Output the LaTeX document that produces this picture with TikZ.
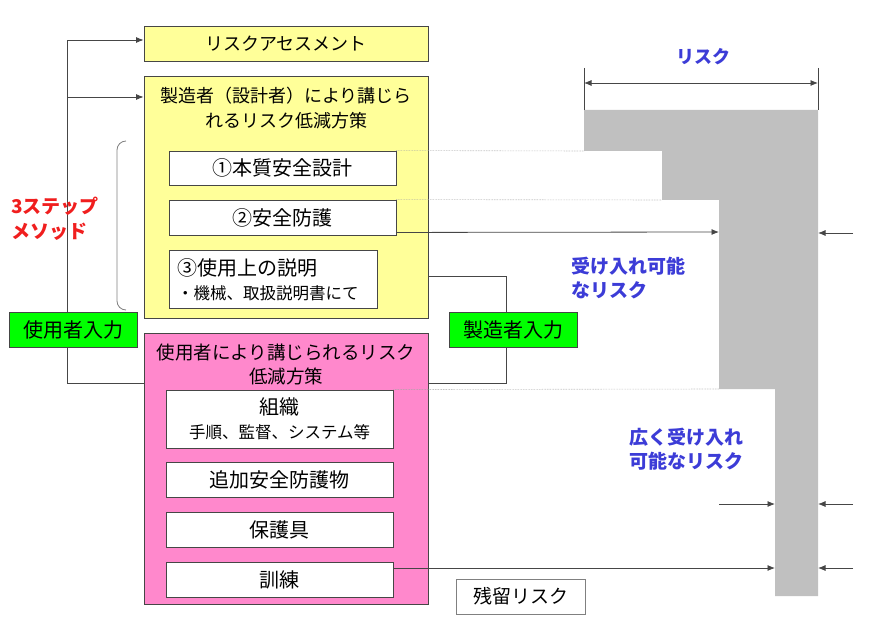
\documentclass[tikz,border=0pt]{standalone}
\usepackage{fontspec}
\setmainfont{Noto Sans CJK JP}
\usetikzlibrary{arrows.meta,calc}
\definecolor{ybox}{RGB}{255,255,153}
\definecolor{pbox}{RGB}{255,136,204}
\definecolor{gbox}{RGB}{0,255,0}
\definecolor{risk}{RGB}{192,192,192}
\definecolor{bluetxt}{RGB}{60,60,215}
\definecolor{redtxt}{RGB}{240,30,30}
\definecolor{ln}{RGB}{70,70,70}
\tikzset{
  box/.style={draw=ln, line width=0.9pt, inner sep=0pt, align=center},
  ybx/.style={box, fill=ybox},
  pbx/.style={box, fill=pbox},
  wbx/.style={box, fill=white},
  gbx/.style={box, fill=gbox, minimum width=128pt, minimum height=35pt, font=\fontsize{20}{24}\selectfont},
  conn/.style={draw=ln, line width=0.8pt},
  arr/.style={conn, -{Latex[length=7.5pt,width=6pt]}},
  dim/.style={conn, {Latex[length=7.5pt,width=6pt]}-{Latex[length=7.5pt,width=6pt]}},
  dots/.style={draw=gray!70, line width=0.6pt, densely dotted},
  bluelbl/.style={text=bluetxt, font=\fontsize{19}{24}\selectfont\bfseries, align=left, inner sep=0pt},
}
\begin{document}
\begin{tikzpicture}[x=1pt,y=-1pt]
\useasboundingbox (0,0) rectangle (891,620);

% risk gray shape
\fill[risk] (584,110) -- (818,110) -- (818,596) -- (775,596) -- (775,389) -- (719,389) -- (719,200) -- (662,200) -- (662,151) -- (584,151) -- cycle;

% dimension
\coordinate (dl) at (584,83);
\coordinate (dr) at (818,83);
\draw[conn] (584,68) -- (584,110);
\draw[conn] (818,68) -- (818,110);
\draw[dim] (dl) -- (dr);
\node[bluelbl, font=\fontsize{18}{22}\selectfont\bfseries] (risklbl) at (703,57) {リスク};

% top boxes
\node[ybx, minimum width=284pt, minimum height=35pt, font=\fontsize{18}{24}\selectfont] (ra) at (286,43.5) {リスクアセスメント};
\node[ybx, minimum width=284pt, minimum height=242pt] (mfr) at (286,197) {};
\node[inner sep=0pt, align=center, font=\fontsize{18}{25}\selectfont] (mfrt) at (286,108) {製造者（設計者）により講じら\\れるリスク低減方策};

\node[wbx, minimum width=227pt, minimum height=34pt, font=\fontsize{20}{24}\selectfont] (s1) at (282.5,168) {①本質安全設計};
\node[wbx, minimum width=227pt, minimum height=35pt, font=\fontsize{20}{24}\selectfont] (s2) at (282.5,217.5) {②安全防護};
\node[wbx, minimum width=208pt, minimum height=58pt] (s3) at (273,279) {};
\node[anchor=west, inner sep=0pt, font=\fontsize{20}{24}\selectfont] (s3a) at (177,268) {③使用上の説明};
\node[anchor=west, inner sep=0pt, font=\fontsize{16.5}{20}\selectfont] (s3b) at (177,293) {・機械、取扱説明書にて};

% pink box
\node[pbx, minimum width=284pt, minimum height=271pt] (usr) at (286,468.5) {};
\node[inner sep=0pt, align=center, font=\fontsize{18.5}{24}\selectfont] (usrt) at (286,364) {使用者により講じられるリスク\\低減方策};
\node[wbx, minimum width=227pt, minimum height=58pt] (org) at (279.5,419) {};
\node[inner sep=0pt, font=\fontsize{20}{24}\selectfont] (orga) at (279.5,407) {組織};
\node[inner sep=0pt, font=\fontsize{16.5}{20}\selectfont] (orgb) at (279.5,432) {手順、監督、システム等};
\node[wbx, minimum width=227pt, minimum height=35pt, font=\fontsize{20}{24}\selectfont] (add) at (279.5,479.5) {追加安全防護物};
\node[wbx, minimum width=227pt, minimum height=35pt, font=\fontsize{20}{24}\selectfont] (ppe) at (279.5,529.5) {保護具};
\node[wbx, minimum width=227pt, minimum height=35pt, font=\fontsize{20}{24}\selectfont] (trn) at (279.5,579.5) {訓練};

% residual risk
\node[box, draw=gray, fill=white, minimum width=129pt, minimum height=35pt, font=\fontsize{19}{24}\selectfont] (res) at (520.5,596.5) {残留リスク};

% dotted lines
\draw[dots] (s1.north east) -- (584,151);
\draw[dots] (s2.north east) -- (662,200);
\draw[dots] (org.north east) -- (719,389);

% arrows into the risk shape
\coordinate (g1) at (719,232);
\coordinate (g2) at (775,504);
\coordinate (g2s) at (719,504);
\coordinate (g3) at (775,568);
\draw[arr] ([yshift=3pt]s2.south east) -- (g1);
\draw[arr] (g2s) -- (g2);
\draw[arr] (trn.east |- g3) -- (g3);
\coordinate (q1) at (853,233);
\coordinate (q2) at (853,504);
\coordinate (q3) at (853,568);
\draw[arr] (q1) -- (818,233);
\draw[arr] (q2) -- (818,504);
\draw[arr] (q3) -- (818,568);

% left connector
\coordinate (lt) at (67,40);
\coordinate (lm) at (67,97);
\coordinate (lb) at (67,383);
\draw[conn] (usr.west |- lb) -- (lb) -- (lt);
\draw[arr] (lt) -- (ra.west |- lt);
\draw[arr] (lm) -- (mfr.west |- lm);

% right connector
\coordinate (rt) at (506,276);
\coordinate (rb) at (506,383);
\draw[conn] (mfr.east |- rt) -- (rt) -- (rb) -- (usr.east |- rb);

% brace
\draw[conn, draw=gray, rounded corners=9pt] (126,141) -- (117,141) -- (117,310) -- (126,310);

% green boxes
\node[gbx] (uin) at (73.5,329.5) {使用者入力};
\node[gbx] (min) at (513.5,329.5) {製造者入力};

% labels
\node[text=redtxt, font=\fontsize{19}{25}\selectfont\bfseries, align=left, inner sep=0pt, anchor=west] (step3) at (11,219) {3ステップ\\メソッド};
\node[bluelbl, anchor=west] (acc) at (571,278) {受け入れ可能\\なリスク};
\node[bluelbl, anchor=west] (wacc) at (629,449) {広く受け入れ\\可能なリスク};
\end{tikzpicture}
\end{document}
